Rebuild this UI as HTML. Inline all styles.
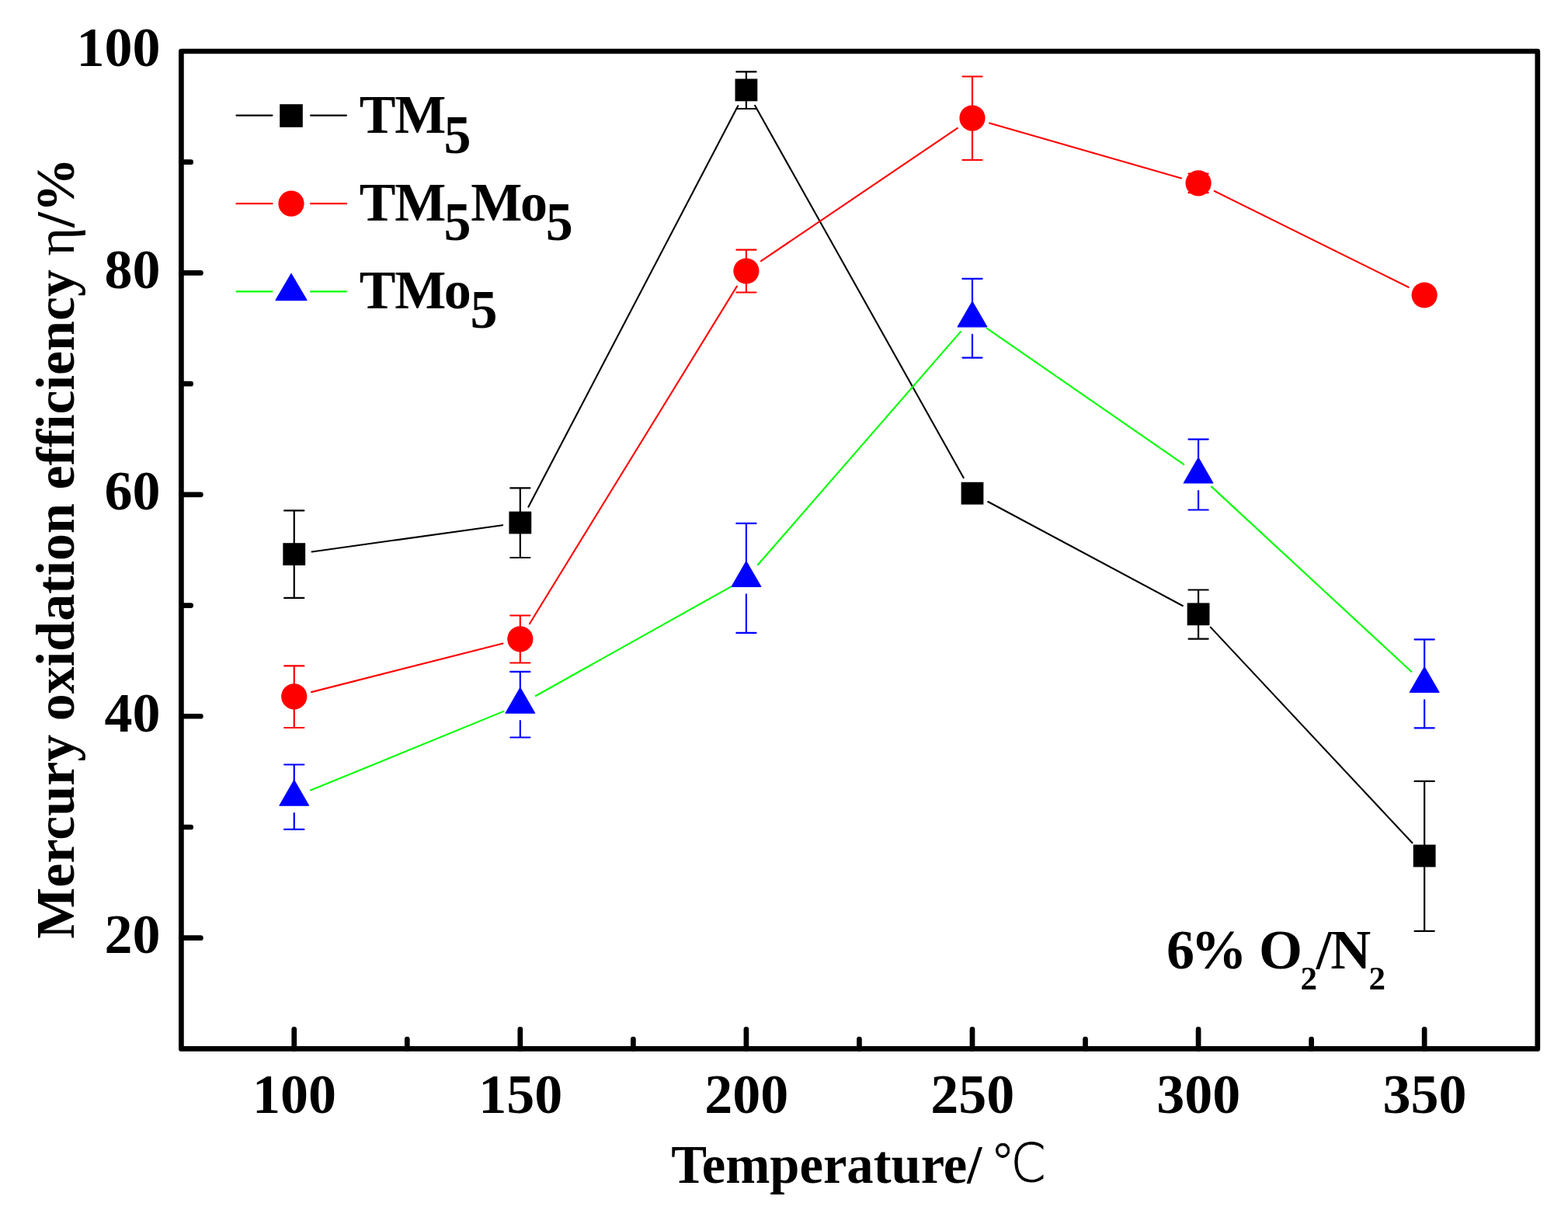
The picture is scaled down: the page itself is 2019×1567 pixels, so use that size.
<!DOCTYPE html><html><head><meta charset="utf-8"><title>Mercury oxidation efficiency vs temperature</title>
<style>html,body{margin:0;padding:0;background:#fff;}body{width:2019px;height:1567px;overflow:hidden;}svg{display:block;}text{font-family:"Liberation Serif","Noto Serif CJK SC",serif;font-weight:bold;fill:#000;}.n{font-weight:normal;}.c{font-family:"DejaVu Sans","Noto Serif CJK SC",sans-serif;font-weight:200;}</style></head><body>
<svg width="2019" height="1567" viewBox="0 0 2019 1567">
<rect width="2019" height="1567" fill="#fff"/>
<rect x="233.40" y="66.00" width="1746.40" height="1284.40" fill="none" stroke="#000" stroke-width="6.70" stroke-linejoin="round"/>
<path d="M378.75 1350.40L378.75 1325.40M669.83 1350.40L669.83 1325.40M960.91 1350.40L960.91 1325.40M1251.99 1350.40L1251.99 1325.40M1543.07 1350.40L1543.07 1325.40M1834.15 1350.40L1834.15 1325.40M524.29 1350.40L524.29 1338.10M815.37 1350.40L815.37 1338.10M1106.45 1350.40L1106.45 1338.10M1397.53 1350.40L1397.53 1338.10M1688.61 1350.40L1688.61 1338.10M233.40 1207.69L258.40 1207.69M233.40 922.27L258.40 922.27M233.40 636.84L258.40 636.84M233.40 351.42L258.40 351.42M233.40 1064.98L245.70 1064.98M233.40 779.56L245.70 779.56M233.40 494.13L245.70 494.13M233.40 208.71L245.70 208.71" stroke="#000" stroke-width="6.70" stroke-linecap="round" fill="none"/>
<text x="379.05" y="1432.60" font-size="72" text-anchor="middle">100</text>
<text x="670.13" y="1432.60" font-size="72" text-anchor="middle">150</text>
<text x="961.21" y="1432.60" font-size="72" text-anchor="middle">200</text>
<text x="1252.29" y="1432.60" font-size="72" text-anchor="middle">250</text>
<text x="1543.37" y="1432.60" font-size="72" text-anchor="middle">300</text>
<text x="1834.45" y="1432.60" font-size="72" text-anchor="middle">350</text>
<text x="206.50" y="84.80" font-size="72" text-anchor="end">100</text>
<text x="206.50" y="371.30" font-size="72" text-anchor="end">80</text>
<text x="206.50" y="656.00" font-size="72" text-anchor="end">60</text>
<text x="206.50" y="942.00" font-size="72" text-anchor="end">40</text>
<text x="206.50" y="1227.40" font-size="72" text-anchor="end">20</text>
<text x="864.3" y="1522.7" font-size="70" transform="translate(864.3 0) scale(0.98 1) translate(-864.3 0)">Temperature/ </text>
<text class="c" x="0" y="1521.5" font-size="68" stroke="#000" stroke-width="0.9" transform="translate(1275 0) scale(0.95 1)">℃</text>
<text transform="translate(94.7 1208.7) rotate(-90)" font-size="70">Mercury oxidation efficiency <tspan class="n">η</tspan>/%</text>
<path d="M401.53 710.42L647.05 676.18M680.48 652.61L950.26 136.29M972.16 135.96L1240.74 615.14M1272.27 646.04L1522.79 779.96M1558.78 807.60L1818.44 1085.20" stroke="#000" stroke-width="2.10" stroke-linecap="round" fill="none"/>
<path d="M401.04 891.13L647.54 828.47M681.87 803.20L948.87 368.60M979.96 336.11L1232.94 164.99M1274.09 158.46L1520.97 229.44M1563.68 246.01L1813.54 369.79" stroke="#f00" stroke-width="2.10" stroke-linecap="round" fill="none"/>
<path d="M400.04 1017.50L648.54 915.90M689.90 895.97L940.84 755.63M976.01 727.05L1236.89 427.15M1270.91 422.88L1524.15 597.92M1559.95 626.62L1817.27 864.78" stroke="#0f0" stroke-width="2.10" stroke-linecap="round" fill="none"/>
<path d="M378.75 713.60L378.75 657.40M378.75 713.60L378.75 769.90M366.15 657.40L391.35 657.40M366.15 769.90L391.35 769.90M669.83 673.00L669.83 628.40M669.83 673.00L669.83 718.00M657.23 628.40L682.43 628.40M657.23 718.00L682.43 718.00M960.91 115.90L960.91 92.40M960.91 115.90L960.91 140.00M948.31 92.40L973.51 92.40M948.31 140.00L973.51 140.00M1543.07 790.80L1543.07 759.50M1543.07 790.80L1543.07 822.60M1530.47 759.50L1555.67 759.50M1530.47 822.60L1555.67 822.60M1834.15 1102.00L1834.15 1005.90M1834.15 1102.00L1834.15 1198.80M1821.55 1005.90L1846.75 1005.90M1821.55 1198.80L1846.75 1198.80" stroke="#000" stroke-width="2.20" stroke-linecap="round" fill="none"/>
<path d="M378.75 896.80L378.75 857.40M378.75 896.80L378.75 937.00M366.15 857.40L391.35 857.40M366.15 937.00L391.35 937.00M669.83 822.80L669.83 792.50M669.83 822.80L669.83 853.50M657.23 792.50L682.43 792.50M657.23 853.50L682.43 853.50M960.91 349.00L960.91 321.60M960.91 349.00L960.91 376.50M948.31 321.60L973.51 321.60M948.31 376.50L973.51 376.50M1251.99 152.10L1251.99 98.50M1251.99 152.10L1251.99 206.00M1239.39 98.50L1264.59 98.50M1239.39 206.00L1264.59 206.00M1543.07 235.80L1543.07 223.60M1543.07 235.80L1543.07 248.20M1530.47 223.60L1555.67 223.60M1530.47 248.20L1555.67 248.20" stroke="#f00" stroke-width="2.20" stroke-linecap="round" fill="none"/>
<path d="M378.75 1026.20L378.75 984.50M378.75 1047.20L378.75 1067.90M366.15 984.50L391.35 984.50M366.15 1067.90L391.35 1067.90M669.83 907.20L669.83 864.90M669.83 928.20L669.83 949.50M657.23 864.90L682.43 864.90M657.23 949.50L682.43 949.50M960.91 744.40L960.91 673.90M960.91 765.40L960.91 814.90M948.31 673.90L973.51 673.90M948.31 814.90L973.51 814.90M1251.99 409.80L1251.99 358.90M1251.99 430.80L1251.99 460.60M1239.39 358.90L1264.59 358.90M1239.39 460.60L1264.59 460.60M1543.07 611.00L1543.07 565.60M1543.07 632.00L1543.07 656.50M1530.47 565.60L1555.67 565.60M1530.47 656.50L1555.67 656.50M1834.15 880.40L1834.15 823.40M1834.15 901.40L1834.15 937.30M1821.55 823.40L1846.75 823.40M1821.55 937.30L1846.75 937.30" stroke="#00f" stroke-width="2.20" stroke-linecap="round" fill="none"/>
<rect x="364.35" y="699.20" width="28.80" height="28.80" fill="#000"/>
<rect x="655.43" y="658.60" width="28.80" height="28.80" fill="#000"/>
<rect x="946.51" y="101.50" width="28.80" height="28.80" fill="#000"/>
<rect x="1237.59" y="620.80" width="28.80" height="28.80" fill="#000"/>
<rect x="1528.67" y="776.40" width="28.80" height="28.80" fill="#000"/>
<rect x="1819.75" y="1087.60" width="28.80" height="28.80" fill="#000"/>
<circle cx="378.75" cy="896.80" r="16.60" fill="#f00"/>
<circle cx="669.83" cy="822.80" r="16.60" fill="#f00"/>
<circle cx="960.91" cy="349.00" r="16.60" fill="#f00"/>
<circle cx="1251.99" cy="152.10" r="16.60" fill="#f00"/>
<circle cx="1543.07" cy="235.80" r="16.60" fill="#f00"/>
<circle cx="1834.15" cy="380.00" r="16.60" fill="#f00"/>
<path d="M378.75 1004.60L397.55 1037.20L359.95 1037.20Z" fill="#00f" stroke="#00f" stroke-width="1.2" stroke-linejoin="round"/>
<path d="M669.83 885.60L688.63 918.20L651.03 918.20Z" fill="#00f" stroke="#00f" stroke-width="1.2" stroke-linejoin="round"/>
<path d="M960.91 722.80L979.71 755.40L942.11 755.40Z" fill="#00f" stroke="#00f" stroke-width="1.2" stroke-linejoin="round"/>
<path d="M1251.99 388.20L1270.79 420.80L1233.19 420.80Z" fill="#00f" stroke="#00f" stroke-width="1.2" stroke-linejoin="round"/>
<path d="M1543.07 589.40L1561.87 622.00L1524.27 622.00Z" fill="#00f" stroke="#00f" stroke-width="1.2" stroke-linejoin="round"/>
<path d="M1834.15 858.80L1852.95 891.40L1815.35 891.40Z" fill="#00f" stroke="#00f" stroke-width="1.2" stroke-linejoin="round"/>
<path d="M304.5 148.60L350.5 148.60M400 148.60L446 148.60" stroke="#000" stroke-width="2.2" stroke-linecap="round"/>
<path d="M304.5 262.20L350.5 262.20M400 262.20L446 262.20" stroke="#f00" stroke-width="2.2" stroke-linecap="round"/>
<path d="M304.5 375.30L350.5 375.30M400 375.30L446 375.30" stroke="#0f0" stroke-width="2.2" stroke-linecap="round"/>
<rect x="360.20" y="134.20" width="29.60" height="29.60" fill="#000"/>
<circle cx="375.00" cy="262.20" r="16.60" fill="#f00"/>
<path d="M375.00 352.50L395.00 386.60L355.00 386.60Z" fill="#00f" stroke="#00f" stroke-width="1.2" stroke-linejoin="round"/>
<text x="462.7 508.3" y="170.9" font-size="70">TM<tspan x="571.5" y="196.5">5</tspan></text>
<text x="462.7 508.3" y="284.0" font-size="70">TM<tspan x="571.5" y="309.3">5</tspan><tspan x="606.3 670.0" y="284.0">Mo</tspan><tspan x="702.7" y="309.3">5</tspan></text>
<text x="462.7 508.3 571.8" y="397.0" font-size="70">TMo<tspan x="605.5" y="422.0">5</tspan></text>
<text x="1501.9 1533.5 1569.5 1621.0" y="1246.6" font-size="72">6% O<tspan x="1674.4" y="1274.3" font-size="43">2</tspan><tspan x="1694.8 1713.2" y="1246.6">/N</tspan><tspan x="1762.5" y="1274.3" font-size="43">2</tspan></text>
</svg></body></html>
